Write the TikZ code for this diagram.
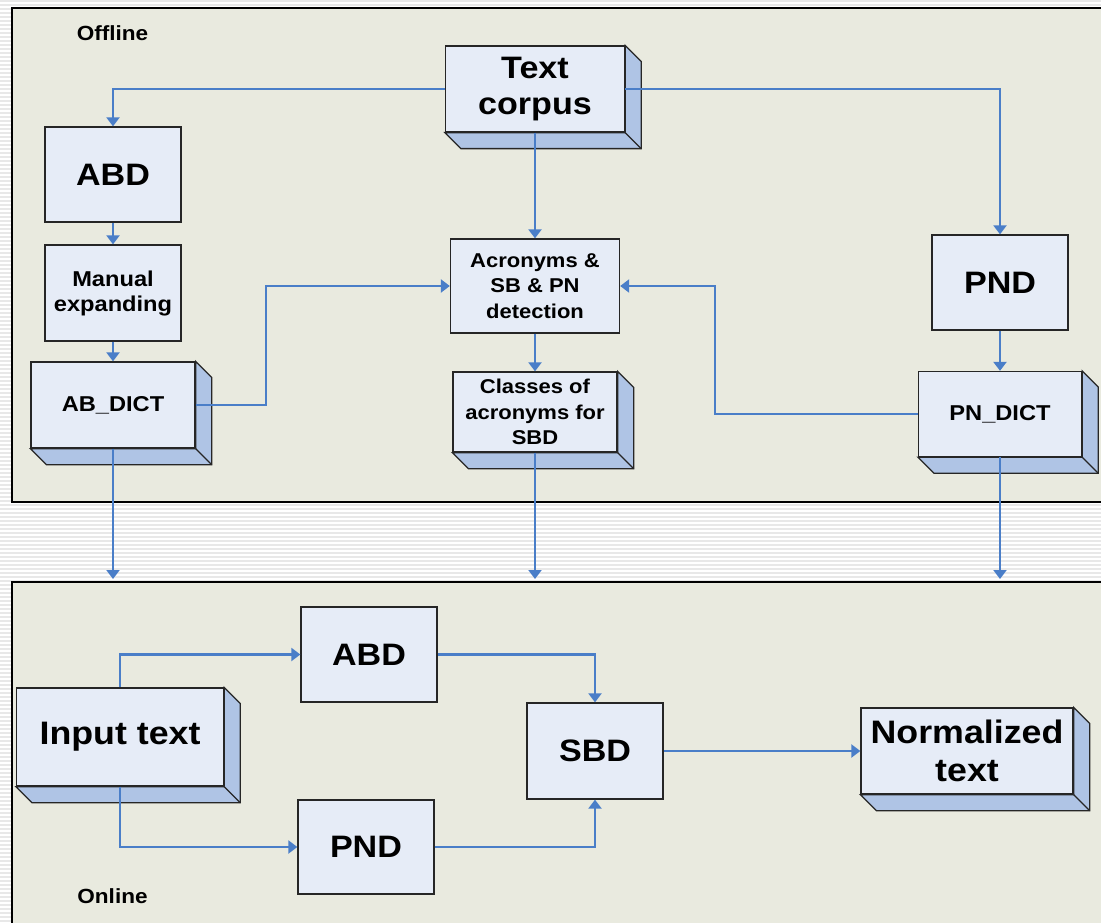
\documentclass[tikz,border=0pt]{standalone}
\usepackage{fontspec}
\setmainfont[FakeStretch=1.1]{Liberation Sans}
\usetikzlibrary{arrows.meta,calc}

\definecolor{panelbg}{HTML}{E9EADF}
\definecolor{boxface}{HTML}{E6ECF7}
\definecolor{boxside}{HTML}{AFC4E5}
\definecolor{flowblue}{HTML}{4A7EC8}

\tikzset{
	panel/.style={draw=black, line width=1.8pt, fill=panelbg},
	box/.style={draw=black!85, line width=1.3pt, fill=boxface, inner sep=0pt, align=center},
	side/.style={draw=black!85, line width=1.3pt, fill=boxside},
	big/.style={font=\bfseries\fontsize{31}{36}\selectfont},
	huge/.style={font=\bfseries\fontsize{32.5}{38}\selectfont},
	mid/.style={font=\bfseries\fontsize{21.5}{25}\selectfont},
	small/.style={font=\bfseries\fontsize{20}{25.5}\selectfont},
	stage/.style={font=\bfseries\fontsize{20.5}{22}\selectfont},
	flow/.style={draw=flowblue, line width=2.2pt, -{Triangle[width=13pt,length=9pt]}},
}

% side and bottom faces of a raised box
\newcommand{\extrude}[1]{%
	\path[side] (#1.north east) -- ++(16,16) -- ($(#1.south east)+(16,16)$)
		-- ($(#1.south west)+(16,16)$) -- (#1.south west) -- (#1.south east) -- cycle;
	\draw[side] (#1.south east) -- ++(16,16);}

\begin{document}
\begin{tikzpicture}[x=1pt, y=-1pt]
		\useasboundingbox (0,0) rectangle (1101,923);
		% striped slide background
		\foreach \y in {1,5,...,921}
			\draw[black!9, line width=1.4pt] (0,\y) -- (1101,\y);

		% Panels
		\draw[panel] (12,8) rectangle (1120,502);
		\draw[panel] (12,582) rectangle (1120,940);
		\node[stage] (offline) at (112.5,33) {Offline};
		\node[stage] (online) at (112.5,896) {Online};
		\coordinate (ontop) at (0,579);

		% Offline boxes
		\node[box, big, minimum width=179pt, minimum height=86pt] (corpus) at (535,89) {Text\\corpus};
		\extrude{corpus}
		\node[box, big, minimum width=136pt, minimum height=95pt] (abd) at (113,174.5) {ABD};
		\node[box, mid, minimum width=136pt, minimum height=96pt] (manual) at (113,293) {Manual\\expanding};
		\node[box, mid, minimum width=164pt, minimum height=86pt] (abdict) at (113,405) {AB\_DICT};
		\extrude{abdict}
		\node[box, small, minimum width=169pt, minimum height=94pt] (acro) at (535,286) {Acronyms \&\\SB \& PN\\detection};
		\node[box, small, minimum width=164pt, minimum height=80pt] (classes) at (535,412) {Classes of\\acronyms for\\SBD};
		\extrude{classes}
		\node[box, big, minimum width=136pt, minimum height=95pt] (pnd) at (1000,282.5) {PND};
		\node[box, mid, minimum width=163pt, minimum height=85pt] (pndict) at (1000,414) {PN\_DICT};
		\extrude{pndict}

		% Online boxes
		\node[box, huge, minimum width=207pt, minimum height=98pt] (input) at (120,737) {Input text};
		\extrude{input}
		\node[box, big, minimum width=136pt, minimum height=95pt] (abdon) at (369,654.5) {ABD};
		\node[box, big, minimum width=136pt, minimum height=94pt] (pndon) at (366,847) {PND};
		\node[box, big, minimum width=136pt, minimum height=96pt] (sbd) at (595,751) {SBD};
		\node[box, huge, minimum width=212pt, minimum height=86pt] (norm) at (967,751) {Normalized\\text};
		\extrude{norm}

		% Offline flow
		\draw[flow] (corpus.west) -| (abd.north);
		\draw[flow] (corpus.east) -| (pnd.north);
		\draw[flow] (corpus.south) -- (acro.north);
		\draw[flow] (abd.south) -- (manual.north);
		\draw[flow] (manual.south) -- (abdict.north);
		\draw[flow] (abdict.east) -- ++(70,0) |- (acro.west);
		\draw[flow] (pndict.west) -- ++(-203,0) |- (acro.east);
		\draw[flow] (acro.south) -- (classes.north);
		\draw[flow] (pnd.south) -- (pndict.north);

		% dictionaries passed to online stage
		\draw[flow] (abdict.south) -- (abdict.south |- ontop);
		\draw[flow] (classes.south) -- (classes.south |- ontop);
		\draw[flow] (pndict.south) -- (pndict.south |- ontop);

		% Online flow
		\draw[flow] (input.north) |- (abdon.west);
		\draw[flow] (input.south) |- (pndon.west);
		\draw[flow] (abdon.east) -| (sbd.north);
		\draw[flow] (pndon.east) -| (sbd.south);
		\draw[flow] (sbd.east) -- (norm.west);

	\end{tikzpicture}
\end{document}
